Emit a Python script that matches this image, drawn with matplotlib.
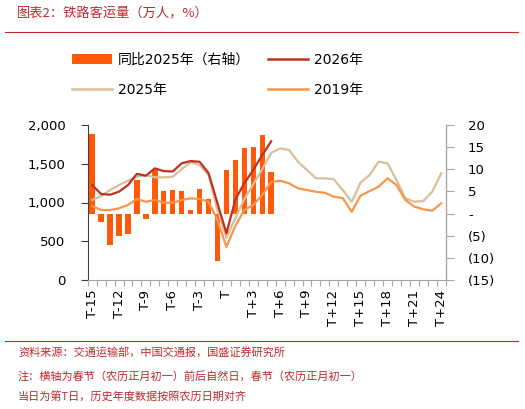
import matplotlib
matplotlib.use("Agg")
import matplotlib.pyplot as plt
from matplotlib.ticker import FixedLocator, FuncFormatter
from matplotlib.patches import Patch
from matplotlib.lines import Line2D
import numpy as np

plt.rcParams['font.family'] = ['DejaVu Sans', 'Noto Sans CJK SC']

days = ['T-15','T-14','T-13','T-12','T-11','T-10','T-9','T-8','T-7','T-6','T-5','T-4','T-3','T-2','T-1',
        'T','T+1','T+2','T+3','T+4','T+5','T+6','T+7','T+8','T+9','T+10','T+11','T+12','T+13','T+14',
        'T+15','T+16','T+17','T+18','T+19','T+20','T+21','T+22','T+23','T+24']

yoy_2025 = [18.0, -2.0, -7.1, -5.1, -4.7, 7.5, -1.2, 9.8, 5.2, 5.4, 5.2, 0.9, 5.6, 3.4, -10.8,
            9.9, 12.0, 14.7, 15.1, 17.8, 9.3]

v2026 = [1225, 1110, 1100, 1140, 1225, 1370, 1345, 1440, 1405, 1400, 1505, 1535, 1525, 1380, 990,
         602, 1040, 1250, 1419, 1612, 1790]

v2025 = [1032, 1083, 1160, 1225, 1281, 1333, 1355, 1325, 1325, 1333, 1430, 1518, 1483, 1355, 903,
         545, 800, 1045, 1235, 1430, 1640, 1699, 1677, 1526, 1419, 1312, 1312, 1299, 1161, 1010,
         1260, 1355, 1526, 1505, 1290, 1054, 1010, 1019, 1139, 1376]

v2019 = [955, 903, 903, 925, 968, 1045, 1010, 1032, 997, 997, 1032, 1054, 1045, 1010, 774,
         425, 700, 903, 968, 1096, 1265, 1281, 1247, 1183, 1161, 1139, 1126, 1075, 1056, 881,
         1090, 1148, 1204, 1312, 1225, 1032, 946, 912, 894, 989]

left_ticks = [0, 500, 1000, 1500, 2000]
right_ticks = [-15, -10, -5, 0, 5, 10, 15, 20]

c_bar = '#FF5A0A'
c_2026 = '#C0321E'
c_2025 = '#D9BE98'
c_2019 = '#F7964A'
c_red = '#C0282D'

W, H = 525, 409
fig = plt.figure(figsize=(W/100, H/100), dpi=100)

ax = fig.add_axes([87.7/W, 1-280/H, (445.7-87.7)/W, 155/H])
ax2 = ax.twinx()

x = np.arange(len(days))
ax2.bar(x[:len(yoy_2025)], yoy_2025, width=0.6, color=c_bar, zorder=1)
ax.plot(x[:len(v2025)], v2025, color=c_2025, lw=1.6, zorder=3)
ax.plot(x[:len(v2019)], v2019, color=c_2019, lw=1.6, zorder=3)
ax.plot(x[:len(v2026)], v2026, color=c_2026, lw=1.6, zorder=4)

ax.set_zorder(ax2.get_zorder() + 1)
ax.patch.set_visible(False)

ax.set_xlim(-0.5, len(days) - 0.5)
ax.set_ylim(0, 2000)
ax2.set_ylim(-15, 20)

ax.yaxis.set_major_locator(FixedLocator(left_ticks))
ax.yaxis.set_major_formatter(FuncFormatter(lambda v, p: f"{int(v):,}"))
ax2.yaxis.set_major_locator(FixedLocator(right_ticks))
def rfmt(v, p):
    v = int(round(v))
    if v == 0:
        return '-'
    if v < 0:
        return f"({-v})"
    return str(v)
ax2.yaxis.set_major_formatter(FuncFormatter(rfmt))

major = list(range(0, len(days), 3))
ax.xaxis.set_major_locator(FixedLocator(major))
ax.set_xticklabels([days[i] for i in major], rotation=90)
ax.xaxis.set_minor_locator(FixedLocator(np.arange(-0.5, len(days), 1.0)))
ax.tick_params(axis='x', which='major', length=0, pad=7, labelsize=9.5, colors='black')
ax.tick_params(axis='x', which='minor', length=4, color='#A6A6A6', width=0.8)
ax.tick_params(axis='y', which='major', length=5, pad=11, labelsize=9.5, color='#404040', width=0.8)
ax2.tick_params(axis='y', which='major', length=6, pad=10, labelsize=9.5, color='#A6A6A6', width=0.8)

for a in (ax, ax2):
    a.spines['top'].set_visible(False)
ax.spines['right'].set_visible(False)
ax2.spines['left'].set_visible(False)
ax2.spines['bottom'].set_visible(False)
ax.spines['left'].set_color('#404040')
ax.spines['left'].set_linewidth(0.8)
ax.spines['bottom'].set_color('#A6A6A6')
ax.spines['bottom'].set_linewidth(0.8)
ax2.spines['right'].set_color('#A6A6A6')
ax2.spines['right'].set_linewidth(1.0)

# legend
handles = [Patch(facecolor=c_bar, edgecolor='none'),
           Line2D([], [], color=c_2025, lw=1.8),
           Line2D([], [], color=c_2026, lw=1.8),
           Line2D([], [], color=c_2019, lw=1.8)]
labels = ['同比2025年（右轴）', '2025年', '2026年', '2019年']
fig.legend(handles, labels, ncol=2, loc='upper left', bbox_to_anchor=(72/W, 1-53/H),
           frameon=False, fontsize=10, handlelength=2.9, handleheight=0.7, handletextpad=0.4,
           columnspacing=1.3, labelspacing=1.15, borderpad=0, borderaxespad=0)

cjk = ['Noto Sans CJK SC', 'DejaVu Sans']
fig.text(17/W, 1-14/H, '图表2：铁路客运量（万人，%）', color=c_red, fontsize=9.5,
         family=cjk, style='italic', va='center', ha='left')
fig.add_artist(Line2D([5/W, 518/W], [1-31.7/H, 1-31.7/H], color=c_red, lw=0.8))
fig.add_artist(Line2D([5/W, 518/W], [1-341/H, 1-341/H], color=c_red, lw=0.8))
notes = ['资料来源：交通运输部，中国交通报，国盛证券研究所',
         '注：横轴为春节（农历正月初一）前后自然日，春节（农历正月初一）',
         '当日为第T日，历史年度数据按照农历日期对齐']
for t, yy in zip(notes, [352, 376, 396]):
    fig.text(18/W, 1-yy/H, t, color=c_red, fontsize=8, family=cjk, style='italic',
             va='center', ha='left')

fig.savefig('out.png', dpi=100)
